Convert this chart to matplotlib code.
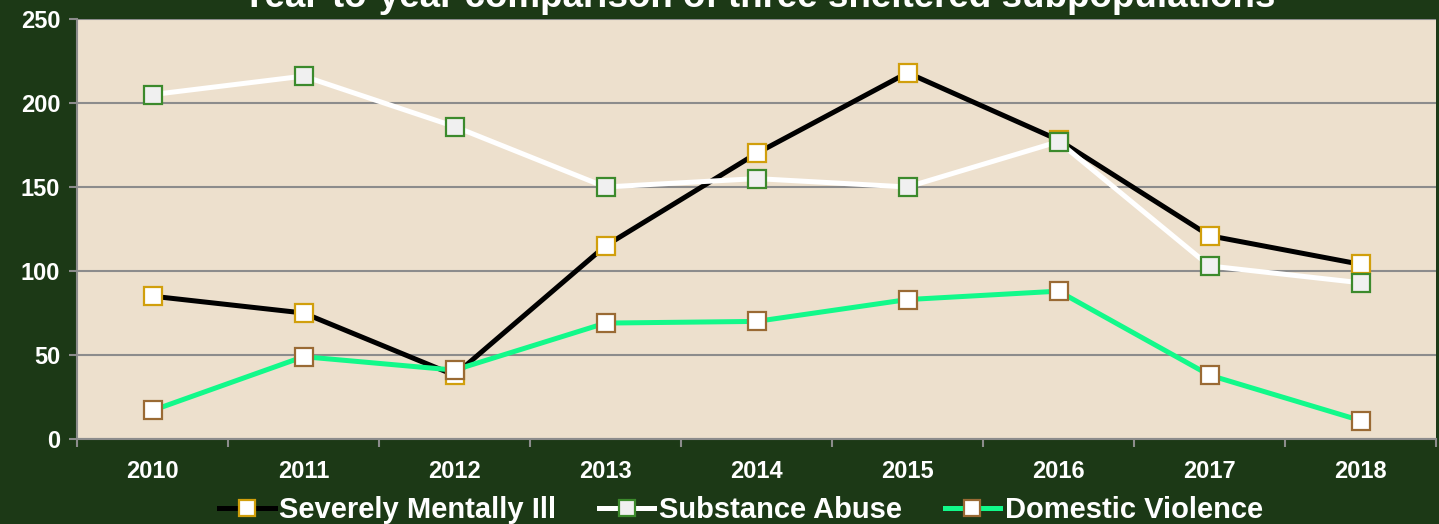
import matplotlib.pyplot as plt
import numpy as np

# data
years = ['2010', '2011', '2012', '2013', '2014', '2015', '2016', '2017', '2018']
mentally_ill = [85, 75, 38, 115, 170, 218, 178, 121, 104]
substance = [205, 216, 186, 150, 155, 150, 177, 103, 93]
domestic = [17, 49, 41, 69, 70, 83, 88, 38, 11]

plt.rcParams['font.family'] = ['Liberation Sans', 'DejaVu Sans']

bg = '#1c3916'
fig = plt.figure(figsize=(14.39, 5.24), dpi=100, facecolor=bg)
ax = fig.add_axes([77 / 1439, 1 - 439 / 524, (1436 - 77) / 1439, (439 - 19) / 524])
ax.set_facecolor('#ede0cd')

x = np.arange(len(years))
ax.plot(x, mentally_ill, color='black', lw=3.6, marker='s', ms=13.5,
        mfc='white', mec='#d19f0c', mew=1.6, label='Severely Mentally Ill', zorder=3)
ax.plot(x, substance, color='white', lw=3.6, marker='s', ms=13.5,
        mfc='#f0f0f0', mec='#3c8a2c', mew=1.6, label='Substance Abuse', zorder=3)
ax.plot(x, domestic, color='#12f98a', lw=3.6, marker='s', ms=13.5,
        mfc='white', mec='#9a6a34', mew=1.6, label='Domestic Violence', zorder=3)

ax.set_xlim(-0.5, len(years) - 0.5)
ax.set_ylim(0, 250)
ax.set_yticks(range(0, 251, 50))
ax.set_yticklabels([str(v) for v in range(0, 251, 50)], fontsize=17,
                   fontweight='bold', color='white')
ax.set_xticks(x)
ax.set_xticklabels(years, fontsize=17, fontweight='bold', color='white')
ax.set_xticks(np.arange(-0.5, len(years)), minor=True)
ax.tick_params(axis='x', which='major', length=0, pad=15)
ax.tick_params(axis='x', which='minor', length=6, color='#8c8c8c', width=1.5)
ax.tick_params(axis='y', length=6, color='#8c8c8c', width=1.5, pad=6)

ax.grid(axis='y', color='#8c8c8c', lw=1.5, zorder=1)
for s in ['top', 'right']:
    ax.spines[s].set_visible(False)
for s in ['left', 'bottom']:
    ax.spines[s].set_color('#8c8c8c')
    ax.spines[s].set_linewidth(1.5)

fig.text(0.527, 1 - 7 / 524, 'Year-to-year comparison of three sheltered subpopulations',
         ha='center', va='baseline', fontsize=26.5, fontweight='bold', color='white')

leg = fig.legend(loc='lower center', bbox_to_anchor=(0.515, -0.05), ncol=3,
                 frameon=False, handlelength=1.9, handletextpad=0.17,
                 columnspacing=1.45, prop={'weight': 'bold', 'size': 21})
for t in leg.get_texts():
    t.set_color('white')
for h in leg.legend_handles:
    h.set_markersize(11.5)

plt.savefig('out.png', dpi=100, facecolor=bg)
